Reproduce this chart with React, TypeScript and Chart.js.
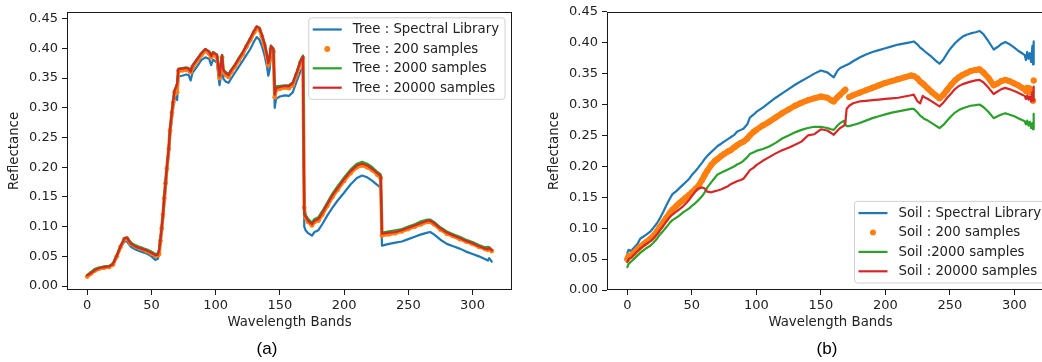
import React, { useEffect, useRef } from 'react';
import { Chart, registerables } from 'chart.js';

Chart.register(...registerables);

// ---------- shared axis ticks ----------
const xTicks = [0, 50, 100, 150, 200, 250, 300];
const yTicks = [0, 0.05, 0.1, 0.15, 0.2, 0.25, 0.3, 0.35, 0.4, 0.45];
const seriesColors = ['#1f77b4', '#ff7f0e', '#2ca02c', '#d62728'];

// ---------- (a) Tree ----------
const treeLabels = ['Tree : Spectral Library', 'Tree : 200 samples', 'Tree : 2000 samples', 'Tree : 20000 samples'];
const treeBands = [
  0, 3, 6, 9, 13, 17, 20, 23, 26, 29,
  31, 34, 38, 42, 46, 50, 53, 55, 56, 57,
  58, 59, 60, 61, 62, 63.5, 64.5, 66, 67, 68,
  69, 70, 71, 74, 77, 79, 80.5, 82, 86, 89,
  92, 95, 96.5, 98, 101, 103, 104, 105, 106, 108,
  110, 112, 115, 118, 121, 124, 127, 130, 132, 134,
  136, 138, 140, 141, 142, 143, 145, 146, 147, 150,
  154, 157, 160, 163, 166, 168, 169, 170, 172, 175,
  177, 180, 183, 187, 191, 195, 200, 205, 210, 214,
  218, 222, 226, 228.5, 229.5, 235, 240, 245, 250, 255,
  260, 265, 267, 270, 275, 280, 285, 290, 295, 300,
  305, 310, 312, 313, 315,
];
const treeLibrary = [
  0.018, 0.022, 0.026, 0.029, 0.031, 0.033, 0.036, 0.050, 0.065, 0.075,
  0.075, 0.066, 0.061, 0.058, 0.055, 0.050, 0.044, 0.046, 0.054, 0.074,
  0.094, 0.114, 0.139, 0.164, 0.189, 0.224, 0.254, 0.284, 0.302, 0.315,
  0.318, 0.313, 0.353, 0.354, 0.356, 0.355, 0.346, 0.359, 0.371, 0.381,
  0.385, 0.382, 0.372, 0.381, 0.376, 0.338, 0.352, 0.368, 0.349, 0.344,
  0.342, 0.349, 0.359, 0.369, 0.379, 0.389, 0.399, 0.412, 0.419, 0.415,
  0.404, 0.389, 0.369, 0.354, 0.364, 0.388, 0.384, 0.300, 0.315, 0.319,
  0.321, 0.320, 0.326, 0.344, 0.361, 0.369, 0.100, 0.094, 0.089, 0.085,
  0.091, 0.094, 0.104, 0.119, 0.132, 0.144, 0.157, 0.171, 0.182, 0.186,
  0.183, 0.177, 0.170, 0.165, 0.068, 0.071, 0.073, 0.075, 0.079, 0.083,
  0.087, 0.090, 0.091, 0.087, 0.078, 0.071, 0.067, 0.063, 0.058, 0.054,
  0.050, 0.045, 0.043, 0.047, 0.041,
];
const tree200 = [
  0.016, 0.021, 0.026, 0.029, 0.031, 0.032, 0.036, 0.050, 0.066, 0.079,
  0.080, 0.071, 0.066, 0.063, 0.059, 0.055, 0.051, 0.052, 0.054, 0.076,
  0.097, 0.120, 0.148, 0.173, 0.198, 0.231, 0.262, 0.292, 0.309, 0.326,
  0.330, 0.326, 0.362, 0.363, 0.364, 0.363, 0.360, 0.368, 0.380, 0.389,
  0.396, 0.391, 0.385, 0.390, 0.385, 0.350, 0.370, 0.385, 0.360, 0.355,
  0.352, 0.360, 0.369, 0.380, 0.390, 0.403, 0.414, 0.427, 0.434, 0.432,
  0.420, 0.405, 0.385, 0.372, 0.380, 0.398, 0.395, 0.318, 0.330, 0.332,
  0.334, 0.333, 0.338, 0.356, 0.376, 0.384, 0.132, 0.115, 0.108, 0.102,
  0.108, 0.110, 0.120, 0.135, 0.150, 0.162, 0.177, 0.190, 0.200, 0.203,
  0.200, 0.195, 0.187, 0.182, 0.085, 0.087, 0.089, 0.092, 0.096, 0.100,
  0.104, 0.108, 0.108, 0.104, 0.095, 0.088, 0.084, 0.079, 0.075, 0.071,
  0.066, 0.062, 0.061, 0.063, 0.059,
];
const tree2000 = [
  0.019, 0.024, 0.029, 0.031, 0.033, 0.034, 0.038, 0.052, 0.068, 0.081,
  0.082, 0.073, 0.068, 0.065, 0.062, 0.058, 0.054, 0.055, 0.062, 0.080,
  0.100, 0.122, 0.150, 0.176, 0.200, 0.234, 0.265, 0.296, 0.315, 0.330,
  0.335, 0.342, 0.366, 0.367, 0.368, 0.367, 0.362, 0.372, 0.384, 0.393,
  0.399, 0.395, 0.389, 0.394, 0.390, 0.355, 0.375, 0.389, 0.365, 0.360,
  0.357, 0.364, 0.373, 0.384, 0.394, 0.406, 0.418, 0.430, 0.437, 0.435,
  0.424, 0.410, 0.390, 0.377, 0.385, 0.405, 0.400, 0.325, 0.336, 0.337,
  0.338, 0.338, 0.343, 0.360, 0.380, 0.388, 0.125, 0.120, 0.113, 0.107,
  0.113, 0.116, 0.126, 0.141, 0.156, 0.168, 0.183, 0.196, 0.206, 0.209,
  0.206, 0.200, 0.192, 0.188, 0.090, 0.092, 0.094, 0.096, 0.100, 0.104,
  0.109, 0.112, 0.112, 0.108, 0.099, 0.092, 0.087, 0.083, 0.078, 0.074,
  0.069, 0.065, 0.066, 0.065, 0.061,
];
const tree20000 = [
  0.018, 0.022, 0.027, 0.030, 0.032, 0.033, 0.037, 0.051, 0.067, 0.080,
  0.081, 0.071, 0.066, 0.063, 0.060, 0.056, 0.052, 0.053, 0.060, 0.078,
  0.099, 0.121, 0.149, 0.175, 0.200, 0.233, 0.264, 0.295, 0.313, 0.328,
  0.334, 0.340, 0.365, 0.366, 0.367, 0.366, 0.361, 0.371, 0.383, 0.392,
  0.399, 0.394, 0.387, 0.393, 0.389, 0.353, 0.372, 0.388, 0.363, 0.358,
  0.355, 0.363, 0.372, 0.383, 0.393, 0.405, 0.417, 0.430, 0.437, 0.434,
  0.423, 0.408, 0.388, 0.375, 0.383, 0.404, 0.399, 0.322, 0.333, 0.335,
  0.337, 0.336, 0.342, 0.359, 0.378, 0.386, 0.120, 0.117, 0.110, 0.104,
  0.110, 0.113, 0.123, 0.138, 0.153, 0.165, 0.180, 0.193, 0.203, 0.206,
  0.203, 0.197, 0.190, 0.185, 0.088, 0.090, 0.091, 0.094, 0.098, 0.102,
  0.106, 0.110, 0.110, 0.106, 0.097, 0.090, 0.085, 0.081, 0.076, 0.072,
  0.067, 0.063, 0.062, 0.064, 0.060,
];

// ---------- (b) Soil ----------
const soilLabels = ['Soil : Spectral Library', 'Soil : 200 samples', 'Soil :2000 samples', 'Soil : 20000 samples'];
const soilBands = [
  0, 1, 3, 5, 8, 10, 13, 15, 18, 20,
  23, 25, 28, 30, 33, 35, 38, 40, 43, 45,
  48, 50, 53, 55, 58, 60, 62, 65, 68, 70,
  73, 75, 78, 80, 83, 85, 88, 90, 93, 95,
  98, 100, 105, 110, 115, 120, 125, 130, 135, 140,
  145, 150, 155, 158, 160, 163, 165, 168, 169, 170,
  172, 175, 180, 185, 190, 195, 200, 205, 210, 215,
  220, 222, 225, 227, 229, 230, 233, 236, 239, 242,
  245, 248, 251, 254, 257, 260, 263, 266, 270, 273,
  276, 280, 284, 287, 290, 293, 296, 300, 303, 306,
  308, 309, 310, 311, 312, 313, 314, 314.5, 314.8, 315,
];
const soilLibrary = [
  0.060, 0.065, 0.063, 0.068, 0.075, 0.083, 0.087, 0.090, 0.095, 0.100,
  0.108, 0.115, 0.127, 0.136, 0.148, 0.155, 0.160, 0.164, 0.170, 0.174,
  0.180, 0.186, 0.193, 0.198, 0.206, 0.212, 0.217, 0.223, 0.229, 0.233,
  0.237, 0.240, 0.244, 0.247, 0.251, 0.256, 0.259, 0.261, 0.268, 0.279,
  0.284, 0.288, 0.295, 0.303, 0.311, 0.318, 0.325, 0.332, 0.338, 0.344,
  0.350, 0.355, 0.352, 0.347, 0.344, 0.355, 0.359, 0.362, 0.363, 0.364,
  0.366, 0.370, 0.376, 0.381, 0.385, 0.388, 0.391, 0.394, 0.397, 0.399,
  0.401, 0.402, 0.397, 0.392, 0.389, 0.387, 0.382, 0.377, 0.371, 0.366,
  0.373, 0.383, 0.392, 0.399, 0.405, 0.410, 0.413, 0.415, 0.417, 0.419,
  0.414, 0.402, 0.389, 0.393, 0.398, 0.401, 0.398, 0.392, 0.387, 0.383,
  0.380, 0.372, 0.385, 0.374, 0.383, 0.369, 0.395, 0.365, null, 0.402,
];
const soil200 = [
  0.050, 0.055, 0.056, 0.060, 0.066, 0.070, 0.075, 0.078, 0.083, 0.087,
  0.095, 0.101, 0.110, 0.116, 0.125, 0.130, 0.136, 0.140, 0.145, 0.149,
  0.154, 0.158, 0.164, 0.168, 0.178, 0.186, 0.193, 0.202, 0.209, 0.212,
  0.217, 0.220, 0.224, 0.226, 0.231, 0.234, 0.238, 0.240, 0.245, 0.250,
  0.256, 0.259, 0.266, 0.272, 0.279, 0.286, 0.292, 0.298, 0.303, 0.307,
  0.310, 0.313, 0.311, 0.307, 0.305, 0.312, 0.316, 0.322, 0.324, null,
  0.312, 0.315, 0.319, 0.323, 0.327, 0.331, 0.335, 0.338, 0.341, 0.344,
  0.347, 0.346, 0.342, 0.337, 0.334, 0.332, 0.326, 0.320, 0.315, 0.310,
  0.316, 0.324, 0.332, 0.339, 0.344, 0.348, 0.351, 0.354, 0.356, 0.357,
  0.352, 0.343, 0.331, 0.334, 0.338, 0.340, 0.338, 0.334, 0.331, 0.327,
  0.325, 0.322, 0.327, 0.321, 0.326, 0.320, null, 0.306, null, 0.339,
];
const soil2000 = [
  0.037, 0.042, 0.046, 0.050, 0.056, 0.060, 0.065, 0.068, 0.072, 0.076,
  0.083, 0.089, 0.096, 0.101, 0.109, 0.113, 0.117, 0.120, 0.125, 0.128,
  0.132, 0.136, 0.141, 0.145, 0.152, 0.158, 0.166, 0.174, 0.182, 0.187,
  0.190, 0.192, 0.195, 0.197, 0.200, 0.203, 0.206, 0.209, 0.215, 0.220,
  0.223, 0.225, 0.228, 0.232, 0.238, 0.245, 0.250, 0.255, 0.259, 0.262,
  0.264, 0.264, 0.262, 0.260, 0.259, 0.266, 0.270, 0.274, 0.268, 0.265,
  0.265, 0.267, 0.270, 0.274, 0.278, 0.281, 0.284, 0.287, 0.289, 0.291,
  0.293, 0.293, 0.287, 0.282, 0.279, 0.277, 0.274, 0.270, 0.266, 0.262,
  0.267, 0.274, 0.281, 0.287, 0.291, 0.294, 0.296, 0.298, 0.299, 0.300,
  0.296, 0.288, 0.278, 0.281, 0.284, 0.286, 0.284, 0.281, 0.278, 0.275,
  0.273, 0.268, 0.274, 0.266, 0.272, 0.262, 0.270, 0.260, null, 0.285,
];
const soil20000 = [
  0.045, 0.050, 0.052, 0.057, 0.063, 0.067, 0.072, 0.075, 0.079, 0.083,
  0.090, 0.096, 0.104, 0.110, 0.118, 0.122, 0.127, 0.130, 0.135, 0.139,
  0.146, 0.152, 0.160, 0.164, 0.166, 0.164, 0.159, 0.158, 0.160, 0.161,
  0.163, 0.165, 0.168, 0.171, 0.174, 0.176, 0.178, 0.180, 0.188, 0.194,
  0.198, 0.202, 0.209, 0.215, 0.221, 0.226, 0.230, 0.235, 0.240, 0.250,
  0.252, 0.260, 0.258, 0.254, 0.251, 0.258, 0.262, 0.266, 0.270, 0.293,
  0.298, 0.302, 0.305, 0.306, 0.307, 0.308, 0.309, 0.310, 0.311, 0.313,
  0.315, 0.316, 0.305, 0.302, 0.314, 0.312, 0.309, 0.305, 0.301, 0.297,
  0.303, 0.311, 0.318, 0.325, 0.330, 0.333, 0.335, 0.337, 0.339, 0.340,
  0.336, 0.327, 0.317, 0.321, 0.325, 0.327, 0.325, 0.322, 0.319, 0.316,
  0.314, 0.309, 0.315, 0.308, 0.313, 0.305, 0.320, 0.306, null, 0.329,
];

// ---------- helpers ----------
const FONT = 'DejaVu Sans';
const TEXT = '#222222';

function toPoints(bands: number[], values: (number | null)[]) {
  return bands.map((b, i) => ({ x: b, y: values[i] === undefined ? null : values[i] }));
}

const decorPlugin = {
  id: 'mplDecor',
  afterDraw(chart: any, _args: any, opts: any) {
    const { ctx, chartArea: a } = chart;
    ctx.save();
    // axes frame
    ctx.strokeStyle = '#1a1a1a';
    ctx.lineWidth = 1;
    const L = Math.round(a.left) + 0.5;
    const T = Math.round(a.top) + 0.5;
    const R = Math.round(a.right) - 0.5;
    const B = Math.round(a.bottom) - 0.5;
    ctx.strokeRect(L, T, R - L, B - T);

    // legend
    const ds = chart.data.datasets.slice().sort((p: any, q: any) => p.legendIndex - q.legendIndex);
    ctx.font = `13.3px "${FONT}"`;
    const textW = Math.max(...ds.map((d: any) => ctx.measureText(d.label).width));
    const rowH = 19.4;
    const w = 44 + textW + 6;
    const h = rowH * ds.length + 4;
    const x0 = a.right - 7 - w;
    const y0 = opts.loc === 'upper right' ? a.top + 6 : a.bottom - 7 - h;
    ctx.beginPath();
    const r = 3;
    ctx.moveTo(x0 + r, y0);
    ctx.lineTo(x0 + w - r, y0);
    ctx.arcTo(x0 + w, y0, x0 + w, y0 + r, r);
    ctx.lineTo(x0 + w, y0 + h - r);
    ctx.arcTo(x0 + w, y0 + h, x0 + w - r, y0 + h, r);
    ctx.lineTo(x0 + r, y0 + h);
    ctx.arcTo(x0, y0 + h, x0, y0 + h - r, r);
    ctx.lineTo(x0, y0 + r);
    ctx.arcTo(x0, y0, x0 + r, y0, r);
    ctx.closePath();
    ctx.fillStyle = 'rgba(255,255,255,0.85)';
    ctx.fill();
    ctx.strokeStyle = '#d0d0d0';
    ctx.lineWidth = 1;
    ctx.stroke();
    ds.forEach((d: any, i: number) => {
      const cy = y0 + 11.7 + i * rowH;
      if (d.legendMarker === 'dot') {
        ctx.fillStyle = d.pointBackgroundColor;
        ctx.beginPath();
        ctx.arc(x0 + 18.5, cy, 3, 0, Math.PI * 2);
        ctx.fill();
      } else {
        ctx.strokeStyle = d.borderColor;
        ctx.lineWidth = 2.2;
        ctx.beginPath();
        ctx.moveTo(x0 + 4, cy);
        ctx.lineTo(x0 + 33, cy);
        ctx.stroke();
      }
      ctx.fillStyle = TEXT;
      ctx.textBaseline = 'middle';
      ctx.textAlign = 'left';
      ctx.fillText(d.label, x0 + 44, cy + 0.5);
    });

    // caption
    ctx.font = '17px "Liberation Sans"';
    ctx.fillStyle = '#000';
    ctx.textAlign = 'center';
    ctx.textBaseline = 'middle';
    ctx.fillText(opts.caption, opts.captionX, 349);
    ctx.restore();
  },
};

function makeConfig(
  bands: number[],
  series: (number | null)[][],
  labels: string[],
  yMin: number,
  yMax: number,
  loc: string,
  caption: string,
  captionX: number,
  orangeWidth: number,
  orangeRadius: number,
  topPad: number,
): any {
  const drawOrder = [3, 2, 1, 0];
  const datasets = series.map((vals, i) => {
    const isDots = i === 1;
    return {
      label: labels[i],
      data: toPoints(bands, vals),
      borderColor: seriesColors[i],
      backgroundColor: seriesColors[i],
      borderWidth: isDots ? orangeWidth : 2.2,
      pointRadius: isDots ? orangeRadius : 0,
      pointBackgroundColor: seriesColors[i],
      pointBorderWidth: 0,
      pointHoverRadius: 0,
      borderJoinStyle: 'round',
      borderCapStyle: 'round',
      tension: 0,
      spanGaps: !isDots,
      order: drawOrder[i],
      legendIndex: i,
      legendMarker: isDots ? 'dot' : 'line',
    };
  });
  const tickFont = { family: FONT, size: 13 };
  const titleFont = { family: FONT, size: 13.3 };
  return {
    type: 'line',
    data: { datasets },
    plugins: [decorPlugin],
    options: {
      responsive: false,
      animation: false,
      devicePixelRatio: 1,
      events: [],
      layout: { padding: { top: topPad, right: 8, left: 0, bottom: 0 } },
      plugins: {
        legend: { display: false },
        tooltip: { enabled: false },
        mplDecor: { loc, caption, captionX },
      },
      scales: {
        x: {
          type: 'linear',
          min: -15.75,
          max: 330.75,
          afterBuildTicks: (s: any) => {
            s.ticks = xTicks.map((v) => ({ value: v }));
          },
          afterFit: (s: any) => {
            s.height = 72;
          },
          ticks: {
            callback: (v: any) => String(v),
            font: tickFont,
            color: TEXT,
            padding: 3,
            maxRotation: 0,
            autoSkip: false,
          },
          grid: { drawOnChartArea: false, drawTicks: true, tickLength: 5, color: '#1a1a1a', lineWidth: 1 },
          border: { display: false },
          title: {
            display: true,
            text: 'Wavelength Bands',
            font: titleFont,
            color: TEXT,
            padding: { top: 4, bottom: 31 },
          },
        },
        y: {
          type: 'linear',
          min: yMin,
          max: yMax,
          afterBuildTicks: (s: any) => {
            s.ticks = yTicks.map((v) => ({ value: v }));
          },
          afterFit: (s: any) => {
            s.width = 67;
          },
          ticks: {
            callback: (v: any) => Number(v).toFixed(2),
            font: tickFont,
            color: TEXT,
            padding: 4,
            autoSkip: false,
          },
          grid: { drawOnChartArea: false, drawTicks: true, tickLength: 5, color: '#1a1a1a', lineWidth: 1 },
          border: { display: false },
          title: {
            display: true,
            text: 'Reflectance',
            font: titleFont,
            color: TEXT,
            padding: { top: 7, bottom: 0 },
          },
        },
      },
    },
  };
}

function Panel({ left, width, build }: { left: number; width: number; build: () => any }) {
  const ref = useRef<HTMLCanvasElement>(null);
  useEffect(() => {
    const chart = new Chart(ref.current as HTMLCanvasElement, build());
    return () => chart.destroy();
  }, []);
  return (
    <canvas
      ref={ref}
      width={width}
      height={362}
      style={{ position: 'absolute', left, top: 0, width, height: 362, display: 'block' }}
    />
  );
}

export default function App() {
  return (
    <div
      style={{
        position: 'absolute',
        left: 0,
        top: 0,
        width: 1042,
        height: 362,
        overflow: 'hidden',
        background: '#fff',
      }}
    >
      <Panel
        left={0}
        width={520}
        build={() =>
          makeConfig(
            treeBands,
            [treeLibrary, tree200, tree2000, tree20000],
            treeLabels,
            -0.00664,
            0.46162,
            'upper right',
            '(a)',
            267,
            3.5,
            2.4,
            8,
          )
        }
      />
      <Panel
        left={540}
        width={522}
        build={() =>
          makeConfig(
            soilBands,
            [soilLibrary, soil200, soil2000, soil20000],
            soilLabels,
            0,
            0.45,
            'lower right',
            '(b)',
            287,
            6,
            3,
            8,
          )
        }
      />
    </div>
  );
}
